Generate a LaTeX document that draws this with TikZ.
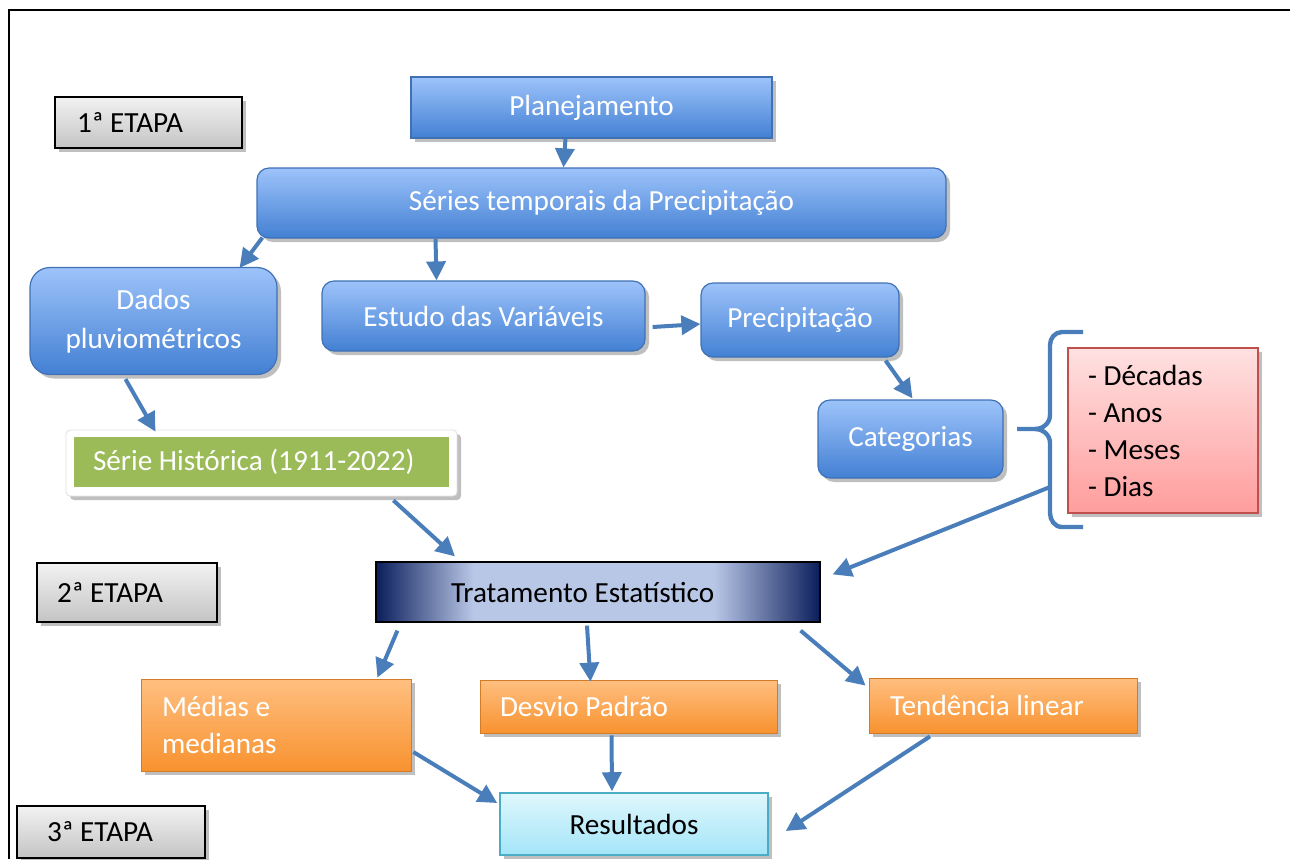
\documentclass[tikz,border=0pt]{standalone}
\usepackage{fontspec}
\setmainfont{Carlito}
\usetikzlibrary{arrows.meta}
\usetikzlibrary{shadows}
\usetikzlibrary{calc}

\definecolor{bluetop}{HTML}{9DC3FA}
\definecolor{bluebot}{HTML}{4380D3}
\definecolor{blueline}{HTML}{3F71B4}
\definecolor{arrowblue}{HTML}{4A7EBB}
\definecolor{navydark}{HTML}{0B1E5B}
\definecolor{navylight}{HTML}{B9C7E7}
\definecolor{histgreen}{HTML}{9BBB59}
\definecolor{redtop}{HTML}{FFE1E1}
\definecolor{redbot}{HTML}{FF9D9D}
\definecolor{redline}{HTML}{C0504D}
\definecolor{orgtop}{HTML}{FFBF80}
\definecolor{orgbot}{HTML}{F8922F}
\definecolor{cyantop}{HTML}{E0F7FD}
\definecolor{cyanbot}{HTML}{A3E5F8}
\definecolor{cyanline}{HTML}{4BACC6}
\definecolor{graytop}{HTML}{F2F2F2}
\definecolor{graybot}{HTML}{C4C4C4}

\pgfdeclarehorizontalshading{tratshade}{100bp}{color(0bp)=(navydark); color(25bp)=(navydark); color(36bp)=(navylight); color(63bp)=(navylight); color(75bp)=(navydark); color(100bp)=(navydark)}

\begin{document}
\begin{tikzpicture} [x=0.5pt, y=-0.5pt,
        every node/.style={font=\fontsize{14.6}{18.5}\selectfont},
        plainspace/.style={execute at begin node={\spaceskip=0pt\xspaceskip=0pt}},
        boxshadow/.style={drop shadow={shadow xshift=2pt, shadow yshift=-2pt, opacity=0.25, fill=black}},
        etapa/.style={draw=black, line width=0.8pt, top color=graytop, bottom color=graybot, boxshadow, align=left, plainspace, inner ysep=0pt},
        bluebox/.style={draw=blueline, line width=0.6pt, top color=bluetop, bottom color=bluebot, text=white, rounded corners=6pt, boxshadow, align=center, inner sep=0pt},
        listbox/.style={draw=redline, line width=0.6pt, top color=redtop, bottom color=redbot, boxshadow, align=left, plainspace, inner ysep=0pt},
        histframe/.style={draw=black!12, fill=white, rounded corners=2pt, boxshadow},
        histbox/.style={fill=histgreen, text=white, align=left, plainspace, inner ysep=0pt},
        tratbox/.style={draw=black, line width=0.6pt, shading=tratshade, align=left, plainspace, inner ysep=0pt},
        orgbox/.style={draw=orgbot!85!black, line width=0.4pt, top color=orgtop, bottom color=orgbot, text=white, boxshadow, align=left, plainspace, inner ysep=0pt},
        resbox/.style={draw=cyanline, line width=0.8pt, top color=cyantop, bottom color=cyanbot, boxshadow, inner sep=0pt},
        flow/.style={arrowblue, line width=2pt, -{Triangle[length=9.5pt, width=9.5pt]}}]
            \useasboundingbox (0,0) rectangle (1290,859);
            \draw[line width=1.3pt] (1290,10) -- (9,10) -- (9,859);

            \node[etapa, text width=71.5pt, inner xsep=11pt, minimum height=25.5pt] (etapa1) at (148.5,122.5) {1ª ETAPA};
            \node[etapa, text width=70pt, inner xsep=10pt, minimum height=29.5pt]   (etapa2) at (127,592.5)   {2ª ETAPA};
            \node[etapa, text width=64pt, inner xsep=15pt, minimum height=26pt]     (etapa3) at (111,832)     {3ª ETAPA};

            \node[bluebox, sharp corners, minimum width=180.5pt, minimum height=30.5pt] (plan) at (591.5,107.5) {Planejamento};
            \node[bluebox, minimum width=344.5pt, minimum height=35pt] (series) at (601.5,203) {Séries temporais da Precipitação};
            \node[bluebox, rounded corners=10pt, minimum width=123.5pt, minimum height=53.5pt,
                font=\fontsize{14.6}{19.5}\selectfont] (dados) at (153.5,321) {Dados\\pluviométricos};
            \node[bluebox, minimum width=161.5pt, minimum height=35pt] (estudo) at (483.5,316) {Estudo das Variáveis};
            \node[bluebox, minimum width=99pt, minimum height=37pt]    (precip) at (800,320)   {Precipitação};
            \node[bluebox, minimum width=92.5pt, minimum height=39pt]  (categ)  at (910.5,439) {Categorias};
            \node[listbox, text width=75pt, inner xsep=10pt, minimum height=82.5pt] (lista) at (1163,430.5) {- Décadas\\- Anos\\- Meses\\- Dias};

            \node[histframe, minimum width=195.5pt, minimum height=33pt] (histbg) at (261.5,463) {};
            \node[histbox, text width=168.5pt, inner xsep=9.5pt, minimum height=25pt] (hist) at (261.5,462) {Série Histórica (1911-2022)};

            \node[tratbox, text width=170pt, inner xsep=26pt, minimum height=30pt] (trat) at (598,592) {\hspace*{11.5pt}Tratamento Estatístico};
            \node[orgbox, text width=114pt, inner xsep=10.5pt, minimum height=46pt]   (medias) at (276,725)    {Médias e\\medianas};
            \node[orgbox, text width=128.5pt, inner xsep=10pt, minimum height=26.5pt] (desvio) at (628.5,706.5) {Desvio Padrão};
            \node[orgbox, text width=113pt, inner xsep=10.5pt, minimum height=27.5pt] (tend)   at (1003,705.5)  {Tendência linear};
            \node[resbox, minimum width=134pt, minimum height=31pt] (result) at (634,824) {Resultados};

            % chave das categorias
            \coordinate (bracetip) at (1017,429);
            \coordinate (bracefoot) at (1050,487);
            \draw[arrowblue, line width=2.2pt] (1083,332) -- (1062,332) to[out=180, in=90] (1050,345) -- (1050,415)
                to[out=-90, in=0] (1035,429) -- (bracetip);
            \draw[arrowblue, line width=2.2pt] (1035,429) to[out=0, in=90] (1050,443) -- (1050,513)
                to[out=-90, in=180] (1062,527) -- (1083,527);

            \draw[flow] ($(plan.south)+(-26,0)$) -- ($(series.north)+(-38,0)$);
            \draw[flow] ($(series.south west)+(6,-1)$) -- ($(dados.north east)+(-38,1)$);
            \draw[flow] ($(series.south)+(-166,0)$) -- ($(estudo.north)+(-47,0)$);
            \draw[flow] ($(estudo.east)+(7,11)$) -- ($(precip.west)+(0,4)$);
            \draw[flow] ($(precip.south east)+(-14,3)$) -- ($(categ.north)+(2,-1)$);
            \draw[flow] (bracefoot) -- ($(trat.north east)+(12,13)$);
            \draw[flow] ($(dados.south)+(-28,4)$) -- ($(hist.north)+(-106,-5)$);
            \draw[flow] ($(histbg.south east)+(-64,4)$) -- ($(trat.north)+(-143,-5)$);
            \draw[flow] ($(trat.south west)+(22,8)$) -- ($(medias.north east)+(-34,-1)$);
            \draw[flow] ($(trat.south)+(-11,3)$) -- ($(desvio.north)+(-38,2)$);
            \draw[flow] ($(trat.south east)+(-20,8)$) -- ($(tend.north west)+(-3,8)$);
            \draw[flow] ($(medias.east)+(2,27)$) -- ($(result.west)+(-2,-21)$);
            \draw[flow] ($(desvio.south)+(-17,2)$) -- ($(result.north)+(-22,-1)$);
            \draw[flow] ($(tend.south)+(-73,3)$) -- ($(result.east)+(17,7)$);
        \end{tikzpicture}
\end{document}
